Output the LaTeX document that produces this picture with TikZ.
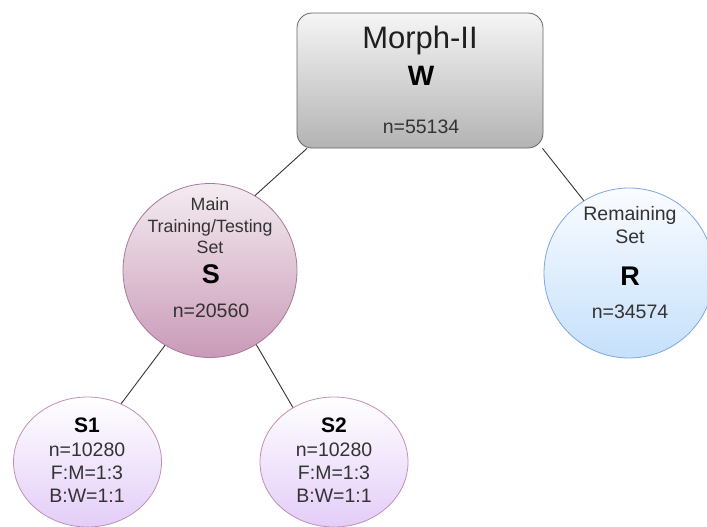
\documentclass[tikz,border=0pt]{standalone}
\usepackage{fontspec}
\setmainfont{Liberation Sans}
\usetikzlibrary{shapes.geometric}
\definecolor{lineC}{HTML}{333333}
\definecolor{textC}{HTML}{333333}
\definecolor{wTop}{HTML}{F5F5F5}
\definecolor{wBot}{HTML}{B3B3B3}
\definecolor{wDraw}{HTML}{666666}
\definecolor{sTop}{HTML}{F4ECF1}
\definecolor{sBot}{HTML}{C99AB7}
\definecolor{sDraw}{HTML}{A6789A}
\definecolor{rTop}{HTML}{FAFCFF}
\definecolor{rBot}{HTML}{C5E0FB}
\definecolor{rDraw}{HTML}{7EA6E0}
\definecolor{cTop}{HTML}{FFFFFF}
\definecolor{cBot}{HTML}{E3CDF8}
\definecolor{cDraw}{HTML}{C28FB5}
\tikzset{
  edge/.style={draw=lineC, line width=0.9pt},
  wbox/.style={rectangle, rounded corners=15pt, minimum width=246pt, minimum height=135pt,
    draw=wDraw, line width=0.8pt, top color=wTop, bottom color=wBot},
  sbig/.style={circle, minimum size=174pt, inner sep=0pt, draw=sDraw, line width=0.8pt,
    top color=sTop, bottom color=sBot},
  rbig/.style={circle, minimum size=170pt, inner sep=0pt, draw=rDraw, line width=0.8pt,
    top color=rTop, bottom color=rBot},
  sub/.style={ellipse, minimum width=148pt, minimum height=130pt, inner sep=0pt, draw=cDraw,
    line width=0.8pt, top color=cTop, bottom color=cBot},
  txt/.style={anchor=base, inner sep=0pt, text=textC, font=\fontsize{19.5}{23}\selectfont},
  stxt/.style={anchor=base, inner sep=0pt, text=textC, font=\fontsize{17.8}{21}\selectfont},
  btxt/.style={anchor=base, inner sep=0pt, text=black, font=\fontsize{27}{30}\selectfont\bfseries},
  bsmall/.style={anchor=base, inner sep=0pt, text=black, font=\fontsize{21}{24}\selectfont\bfseries},
}
\begin{document}
\begin{tikzpicture}[x=1pt,y=-1pt]
\useasboundingbox (0,0) rectangle (707,527);
% shapes
\node[wbox] (W) at (420,80.5) {};
\node[sbig] (S) at (210,270.5) {};
\node[rbig] (R) at (629,273) {};
\node[sub] (S1) at (87.5,462) {};
\node[sub] (S2) at (334,462) {};
% connectors
\draw[edge] (W.211) -- (S.59);
\draw[edge] (W.331) -- (R.122);
\draw[edge] (S.239) -- (S1.60);
\draw[edge] (S.302) -- (S2.127);
% W texts
\node[anchor=base, inner sep=0pt, text=black!88, font=\fontsize{31}{34}\selectfont] (Wt1) at (420,49) {Morph-II};
\node[btxt, font=\fontsize{28}{30}\selectfont\bfseries] (Wt2) at (421,85) {W};
\node[txt] (Wt3) at (421,133) {n=55134};
% S texts
\node[stxt] (St1) at (210,210) {Main};
\node[stxt] (St2) at (210,232) {Training/Testing};
\node[stxt] (St3) at (210,253) {Set};
\node[btxt] (St4) at (211,283) {S};
\node[txt] (St5) at (211,317) {n=20560};
% R texts
\node[txt] (Rt1) at (630,220) {Remaining};
\node[txt] (Rt2) at (630,243) {Set};
\node[btxt] (Rt3) at (630,285) {R};
\node[txt] (Rt4) at (630,318) {n=34574};
% S1 texts
\node[bsmall] (S1t1) at (87,432) {S1};
\node[txt] (S1t2) at (87,456) {n=10280};
\node[txt] (S1t3) at (87,479) {F:M=1:3};
\node[txt] (S1t4) at (87,502) {B:W=1:1};
% S2 texts
\node[bsmall] (S2t1) at (334,432) {S2};
\node[txt] (S2t2) at (334,456) {n=10280};
\node[txt] (S2t3) at (334,479) {F:M=1:3};
\node[txt] (S2t4) at (334,502) {B:W=1:1};
\end{tikzpicture}
\end{document}
